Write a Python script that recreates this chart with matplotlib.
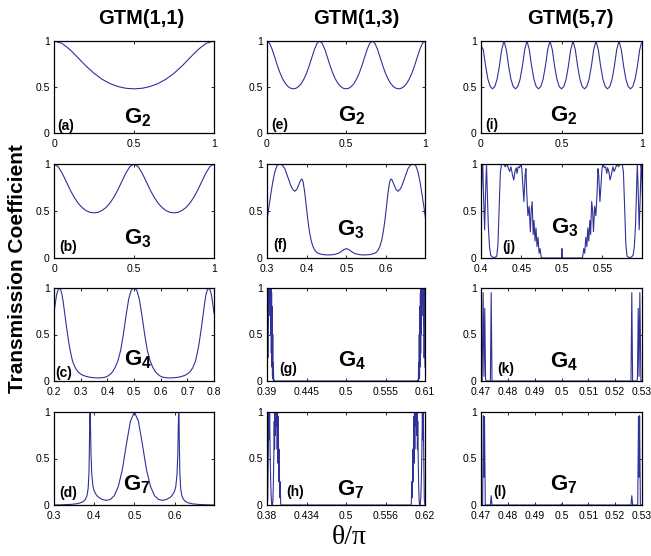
import numpy as np
import matplotlib
matplotlib.use('Agg')
import matplotlib.pyplot as plt

plt.rcParams['font.family'] = ['Liberation Sans', 'DejaVu Sans']
plt.rcParams['mathtext.fontset'] = 'custom'
plt.rcParams['mathtext.bf'] = 'Liberation Sans:bold'
plt.rcParams['mathtext.rm'] = 'Liberation Sans'

LINE = '#31319a'

# ---- GTM(1,1) ----
# (a) G2
a_x = np.linspace(0, 1, 21)
a_T = [1.0, 0.974, 0.906, 0.818, 0.728, 0.649, 0.585, 0.537, 0.505, 0.486,
       0.48, 0.486, 0.505, 0.537, 0.585, 0.649, 0.728, 0.818, 0.906, 0.974, 1.0]

# (b) G3
b_x = np.linspace(0, 1, 41)
b_T = [1.0, 0.974, 0.906, 0.818, 0.728, 0.649, 0.585, 0.537, 0.505, 0.486,
       0.48, 0.486, 0.505, 0.537, 0.585, 0.649, 0.728, 0.818, 0.906, 0.974,
       1.0, 0.974, 0.906, 0.818, 0.728, 0.649, 0.585, 0.537, 0.505, 0.486,
       0.48, 0.486, 0.505, 0.537, 0.585, 0.649, 0.728, 0.818, 0.906, 0.974,
       1.0]

# (c) G4
c_x = [0.200, 0.205, 0.210, 0.215, 0.220, 0.225, 0.230, 0.235, 0.240, 0.245,
       0.250, 0.255, 0.260, 0.265, 0.270, 0.280, 0.290, 0.300, 0.310, 0.320,
       0.335, 0.350, 0.365, 0.380, 0.390, 0.400, 0.410, 0.420, 0.430, 0.440,
       0.450, 0.460, 0.470, 0.480, 0.490, 0.500,
       0.510, 0.520, 0.530, 0.540, 0.550, 0.560, 0.570, 0.580, 0.590, 0.600,
       0.610, 0.620, 0.635, 0.650, 0.665, 0.680, 0.690, 0.700, 0.710, 0.720,
       0.730, 0.735, 0.740, 0.745, 0.750, 0.755, 0.760, 0.765, 0.770, 0.775,
       0.780, 0.785, 0.790, 0.795, 0.800]
c_T = [0.73, 0.84, 0.93, 0.98, 1.0, 0.98, 0.93, 0.84, 0.73, 0.62,
       0.52, 0.42, 0.34, 0.27, 0.21, 0.14, 0.10, 0.075, 0.06, 0.05,
       0.04, 0.035, 0.033, 0.035, 0.04, 0.05, 0.07, 0.10, 0.15, 0.22,
       0.33, 0.50, 0.70, 0.88, 0.98, 1.0,
       0.98, 0.88, 0.70, 0.50, 0.33, 0.22, 0.15, 0.10, 0.07, 0.05,
       0.04, 0.035, 0.033, 0.035, 0.04, 0.05, 0.06, 0.075, 0.10, 0.14,
       0.21, 0.27, 0.34, 0.42, 0.52, 0.62, 0.73, 0.84, 0.93, 0.98,
       1.0, 0.98, 0.93, 0.84, 0.73]

# (d) G7
d_x = [0.300, 0.320, 0.340, 0.355, 0.365, 0.372, 0.378, 0.382, 0.385, 0.387,
       0.388, 0.389, 0.390, 0.391, 0.392, 0.394, 0.397, 0.400, 0.405, 0.410,
       0.420, 0.430, 0.440, 0.450, 0.460, 0.470, 0.480, 0.490, 0.500,
       0.510, 0.520, 0.530, 0.540, 0.550, 0.560, 0.570, 0.580, 0.590, 0.595,
       0.600, 0.603, 0.606, 0.608, 0.609, 0.610, 0.611, 0.612, 0.613, 0.615,
       0.618, 0.622, 0.628, 0.635, 0.645, 0.660, 0.680, 0.700]
d_T = [0.0, 0.002, 0.006, 0.012, 0.022, 0.035, 0.06, 0.10, 0.18, 0.35,
       0.6, 0.95, 1.0, 0.8, 0.55, 0.33, 0.2, 0.15, 0.11, 0.085,
       0.06, 0.05, 0.06, 0.10, 0.20, 0.38, 0.65, 0.90, 1.0,
       0.90, 0.65, 0.38, 0.20, 0.10, 0.06, 0.05, 0.06, 0.085, 0.11,
       0.15, 0.2, 0.33, 0.55, 0.8, 1.0, 0.95, 0.6, 0.35, 0.18,
       0.10, 0.06, 0.035, 0.022, 0.012, 0.006, 0.002, 0.0]

# ---- GTM(1,3) ----
# (e) G2
e_x = np.linspace(0, 1, 61)
e_T = [1.0, 0.974, 0.906, 0.818, 0.728, 0.649, 0.585, 0.537, 0.505, 0.486,
       0.48, 0.486, 0.505, 0.537, 0.585, 0.649, 0.728, 0.818, 0.906, 0.974,
       1.0, 0.974, 0.906, 0.818, 0.728, 0.649, 0.585, 0.537, 0.505, 0.486,
       0.48, 0.486, 0.505, 0.537, 0.585, 0.649, 0.728, 0.818, 0.906, 0.974,
       1.0, 0.974, 0.906, 0.818, 0.728, 0.649, 0.585, 0.537, 0.505, 0.486,
       0.48, 0.486, 0.505, 0.537, 0.585, 0.649, 0.728, 0.818, 0.906, 0.974,
       1.0]

# (f) G3
f_x = [0.300, 0.305, 0.310, 0.315, 0.320, 0.325, 0.330, 0.335, 0.340, 0.345,
       0.350, 0.355, 0.360, 0.365, 0.370, 0.375, 0.380, 0.385, 0.388, 0.391,
       0.395, 0.399, 0.403, 0.407, 0.411, 0.415, 0.420, 0.425, 0.430, 0.440,
       0.450, 0.460, 0.470, 0.480, 0.487, 0.494, 0.500,
       0.506, 0.513, 0.520, 0.530, 0.540, 0.550, 0.560, 0.570, 0.575, 0.580,
       0.585, 0.589, 0.593, 0.597, 0.601, 0.605, 0.609, 0.612, 0.615, 0.620,
       0.625, 0.630, 0.635, 0.640, 0.645, 0.650, 0.655, 0.660, 0.665, 0.670,
       0.675, 0.680, 0.685, 0.690, 0.695, 0.700]
f_T = [0.40, 0.55, 0.69, 0.82, 0.92, 0.98, 1.0, 1.0, 0.98, 0.95,
       0.89, 0.83, 0.77, 0.73, 0.71, 0.73, 0.78, 0.83, 0.84, 0.81,
       0.70, 0.55, 0.40, 0.28, 0.19, 0.13, 0.085, 0.06, 0.048, 0.037,
       0.033, 0.033, 0.038, 0.05, 0.068, 0.09, 0.10,
       0.09, 0.068, 0.05, 0.038, 0.033, 0.033, 0.037, 0.048, 0.06, 0.085,
       0.13, 0.19, 0.28, 0.40, 0.55, 0.70, 0.81, 0.84, 0.83, 0.78,
       0.73, 0.71, 0.73, 0.77, 0.83, 0.89, 0.95, 0.98, 1.0, 1.0,
       0.98, 0.92, 0.82, 0.69, 0.55, 0.40]

# (g) G4
g_x = [0.3900, 0.3904, 0.3908, 0.3912, 0.3916, 0.3920, 0.3924, 0.3928, 0.3932, 0.3936,
       0.3940, 0.3944, 0.3948, 0.3952, 0.3956, 0.3960, 0.3964, 0.3968, 0.3972, 0.3976,
       0.3980, 0.3984, 0.3988, 0.3993, 0.4000, 0.4010,
       0.5990, 0.6000, 0.6007, 0.6012, 0.6016, 0.6020, 0.6024, 0.6028, 0.6032, 0.6036,
       0.6040, 0.6044, 0.6048, 0.6052, 0.6056, 0.6060, 0.6064, 0.6068, 0.6072, 0.6076,
       0.6080, 0.6084, 0.6088, 0.6092, 0.6096, 0.6100]
g_T = [0.15, 0.55, 1.0, 0.25, 0.9, 0.6, 1.0, 0.85, 1.0, 0.95,
       1.0, 0.7, 1.0, 0.5, 1.0, 0.3, 0.95, 0.15, 0.8, 0.05,
       0.5, 0.02, 0.2, 0.005, 0.01, 0.0,
       0.0, 0.01, 0.005, 0.2, 0.02, 0.5, 0.05, 0.8, 0.15, 0.95,
       0.3, 1.0, 0.5, 1.0, 0.7, 1.0, 0.95, 1.0, 0.85, 1.0,
       0.6, 0.9, 0.25, 1.0, 0.55, 0.15]

# (h) G7
h_x = [0.3800, 0.3810, 0.3818, 0.3826, 0.3833, 0.3840, 0.3848, 0.3856, 0.3864, 0.3872,
       0.3880, 0.3888, 0.3896, 0.3904, 0.3910, 0.3915, 0.3920, 0.3925, 0.3930, 0.3935,
       0.3940, 0.3945, 0.3950, 0.3955, 0.3960, 0.3966, 0.3972, 0.3978, 0.3985, 0.3992,
       0.4000, 0.4008, 0.4018,
       0.5982, 0.5992, 0.6000, 0.6008, 0.6015, 0.6022, 0.6028, 0.6034, 0.6040, 0.6045,
       0.6050, 0.6055, 0.6060, 0.6065, 0.6070, 0.6075, 0.6080, 0.6085, 0.6090, 0.6096,
       0.6104, 0.6112, 0.6120, 0.6128, 0.6136, 0.6144, 0.6152, 0.6160, 0.6167, 0.6174,
       0.6182, 0.6190, 0.6200]
h_T = [0.0, 0.05, 0.45, 1.0, 0.7, 1.0, 0.55, 0.25, 0.08, 0.01,
       0.0, 0.03, 0.2, 0.55, 0.9, 0.6, 1.0, 0.75, 1.0, 0.9,
       1.0, 0.85, 1.0, 0.6, 1.0, 0.45, 0.95, 0.25, 0.6, 0.08,
       0.25, 0.01, 0.0,
       0.0, 0.01, 0.25, 0.08, 0.6, 0.25, 0.95, 0.45, 1.0, 0.6,
       1.0, 0.85, 1.0, 0.9, 1.0, 0.75, 1.0, 0.6, 0.9, 0.55,
       0.2, 0.03, 0.0, 0.01, 0.08, 0.25, 0.55, 1.0, 0.7, 1.0,
       0.45, 0.05, 0.0]

# ---- GTM(5,7) ----
# (i) G2
i_x = np.linspace(0, 1, 71)
i_T = [0.95, 0.906, 0.728, 0.585, 0.505, 0.48, 0.505, 0.585, 0.728, 0.906,
       1.0, 0.906, 0.728, 0.585, 0.505, 0.48, 0.505, 0.585, 0.728, 0.906,
       1.0, 0.906, 0.728, 0.585, 0.505, 0.48, 0.505, 0.585, 0.728, 0.906,
       1.0, 0.906, 0.728, 0.585, 0.505, 0.48, 0.505, 0.585, 0.728, 0.906,
       1.0, 0.906, 0.728, 0.585, 0.505, 0.48, 0.505, 0.585, 0.728, 0.906,
       1.0, 0.906, 0.728, 0.585, 0.505, 0.48, 0.505, 0.585, 0.728, 0.906,
       1.0, 0.906, 0.728, 0.585, 0.505, 0.48, 0.505, 0.585, 0.728, 0.906,
       1.0]

# (j) G3
j_x = [0.4000, 0.4015, 0.4022, 0.4030, 0.4045, 0.4058, 0.4068, 0.4078, 0.4090, 0.4105,
       0.4120, 0.4140, 0.4170, 0.4195, 0.4210, 0.4225, 0.4240, 0.4255, 0.4280, 0.4300,
       0.4320, 0.4340, 0.4355, 0.4370, 0.4390, 0.4405, 0.4420, 0.4435, 0.4445, 0.4460,
       0.4475, 0.4490, 0.4505, 0.4515, 0.4530, 0.4545, 0.4555, 0.4565, 0.4580, 0.4595,
       0.4610, 0.4620, 0.4632, 0.4645, 0.4655, 0.4668, 0.4680, 0.4692, 0.4705, 0.4718,
       0.4730, 0.4745, 0.4760, 0.4995, 0.5000, 0.5005,
       0.5240, 0.5255, 0.5270, 0.5282, 0.5295, 0.5308, 0.5320, 0.5332, 0.5345, 0.5355,
       0.5368, 0.5380, 0.5390, 0.5405, 0.5420, 0.5435, 0.5445, 0.5455, 0.5470, 0.5485,
       0.5495, 0.5510, 0.5525, 0.5540, 0.5555, 0.5565, 0.5580, 0.5595, 0.5610, 0.5630,
       0.5645, 0.5660, 0.5680, 0.5700, 0.5720, 0.5745, 0.5760, 0.5775, 0.5790, 0.5805,
       0.5830, 0.5860, 0.5880, 0.5895, 0.5910, 0.5922, 0.5932, 0.5942, 0.5955, 0.5970,
       0.5978, 0.5985, 0.6000]
j_T = [0.55, 0.95, 1.0, 0.7, 0.30, 0.75, 1.0, 0.7, 0.35, 0.12,
       0.03, 0.01, 0.005, 0.02, 0.15, 0.55, 0.92, 1.0, 1.0, 0.97,
       1.0, 0.95, 0.92, 0.97, 0.88, 0.83, 0.92, 0.96, 0.90, 0.97,
       0.96, 1.0, 0.95, 0.80, 0.60, 0.88, 0.95, 0.70, 0.45, 0.55,
       0.28, 0.50, 0.60, 0.25, 0.40, 0.18, 0.32, 0.12, 0.22, 0.05,
       0.10, 0.005, 0.0, 0.0, 0.10, 0.0,
       0.0, 0.005, 0.10, 0.05, 0.22, 0.12, 0.32, 0.18, 0.40, 0.25,
       0.60, 0.50, 0.28, 0.55, 0.45, 0.70, 0.95, 0.88, 0.60, 0.80,
       0.95, 1.0, 0.96, 0.97, 0.90, 0.96, 0.92, 0.83, 0.88, 0.97,
       0.92, 0.95, 1.0, 0.97, 1.0, 1.0, 0.92, 0.55, 0.15, 0.02,
       0.005, 0.01, 0.03, 0.12, 0.35, 0.7, 1.0, 0.75, 0.30, 0.7,
       1.0, 0.95, 0.55]

# (k) G4
k_x = [0.4700, 0.4704, 0.4708, 0.4711, 0.4714, 0.4717, 0.4720, 0.4735, 0.4738, 0.4741,
       0.5259, 0.5262, 0.5265, 0.5280, 0.5283, 0.5286, 0.5289, 0.5292, 0.5296, 0.5300]
k_T = [0.0, 0.0, 0.95, 0.05, 0.78, 0.02, 0.0, 0.0, 0.95, 0.0,
       0.0, 0.95, 0.0, 0.0, 0.02, 0.78, 0.05, 0.95, 0.0, 0.0]

# (l) G7
l_x = [0.4700, 0.4706, 0.4709, 0.4711, 0.4713, 0.4716, 0.4735, 0.4738, 0.4741, 0.4998,
       0.5000, 0.5002, 0.5259, 0.5262, 0.5265, 0.5284, 0.5287, 0.5289, 0.5291, 0.5294,
       0.5300]
l_T = [0.0, 0.0, 0.96, 0.3, 0.95, 0.0, 0.0, 0.1, 0.0, 0.0,
       0.012, 0.0, 0.0, 0.1, 0.0, 0.0, 0.95, 0.3, 0.96, 0.0,
       0.0]

col_titles = ['GTM(1,1)', 'GTM(1,3)', 'GTM(5,7)']

# per panel: data, xlim, xticks, xticklabels, tag, G subscript, tag pos, G pos
panels = [
    [(a_x, a_T, (0, 1), [0, 0.5, 1], ['0', '0.5', '1'], '(a)', '2', (0.02, 0.08), (0.44, 0.17)),
     (b_x, b_T, (0, 1), [0, 0.5, 1], ['0', '0.5', '1'], '(b)', '3', (0.03, 0.12), (0.44, 0.20)),
     (c_x, c_T, (0.2, 0.8), [0.2, 0.3, 0.4, 0.5, 0.6, 0.7, 0.8],
      ['0.2', '0.3', '0.4', '0.5', '0.6', '0.7', '0.8'], '(c)', '4', (0.01, 0.09), (0.44, 0.23)),
     (d_x, d_T, (0.3, 0.698), [0.3, 0.4, 0.5, 0.6], ['0.3', '0.4', '0.5', '0.6'],
      '(d)', '7', (0.03, 0.13), (0.43, 0.22))],
    [(e_x, e_T, (0, 1), [0, 0.5, 1], ['0', '0.5', '1'], '(e)', '2', (0.03, 0.09), (0.45, 0.19)),
     (f_x, f_T, (0.3, 0.698), [0.3, 0.4, 0.5, 0.6], ['0.3', '0.4', '0.5', '0.6'],
      '(f)', '3', (0.04, 0.14), (0.44, 0.30)),
     (g_x, g_T, (0.39, 0.61), [0.39, 0.445, 0.5, 0.555, 0.61],
      ['0.39', '0.445', '0.5', '0.555', '0.61'], '(g)', '4', (0.076, 0.13), (0.45, 0.22)),
     (h_x, h_T, (0.38, 0.62), [0.38, 0.44, 0.5, 0.56, 0.62],
      ['0.38', '0.434', '0.5', '0.556', '0.62'], '(h)', '7', (0.12, 0.14), (0.44, 0.16))],
    [(i_x, i_T, (0, 1), [0, 0.5, 1], ['0', '0.5', '1'], '(i)', '2', (0.025, 0.09), (0.43, 0.19)),
     (j_x, j_T, (0.4, 0.599), [0.4, 0.45, 0.5, 0.55], ['0.4', '0.45', '0.5', '0.55'],
      '(j)', '3', (0.13, 0.12), (0.435, 0.32)),
     (k_x, k_T, (0.47, 0.53), [0.47, 0.48, 0.49, 0.5, 0.51, 0.52, 0.53],
      ['0.47', '0.48', '0.49', '0.5', '0.51', '0.52', '0.53'], '(k)', '4', (0.10, 0.13), (0.43, 0.21)),
     (l_x, l_T, (0.47, 0.53), [0.47, 0.48, 0.49, 0.5, 0.51, 0.52, 0.53],
      ['0.47', '0.48', '0.49', '0.5', '0.51', '0.52', '0.53'], '(l)', '7', (0.075, 0.14), (0.43, 0.22))],
]

W, H = 651, 556
col_left = [54, 267, 481]
col_width = [160, 158, 161]
row_top = [41, 164, 288, 412]
row_height = [92, 94, 93, 93]

fig = plt.figure(figsize=(6.51, 5.56), dpi=100)

for c in range(3):
    for r in range(4):
        x, T, xlim, xt, xtl, tag, sub, tag_pos, g_pos = panels[c][r]
        ax = fig.add_axes([col_left[c] / W, 1 - (row_top[r] + row_height[r]) / H,
                           col_width[c] / W, row_height[r] / H])
        ax.plot(x, T, color=LINE, lw=0.8)
        ax.set_xlim(*xlim)
        ax.set_ylim(0, 1)
        ax.set_xticks(xt)
        ax.set_xticklabels(xtl)
        ax.set_yticks([0, 0.5, 1])
        ax.set_yticklabels(['0', '0.5', '1'])
        ax.tick_params(direction='in', length=2.5, width=0.6, labelsize=7.5,
                       top=True, right=True)
        ax.tick_params(axis='x', pad=4)
        ax.tick_params(axis='y', pad=3)
        for s in ax.spines.values():
            s.set_linewidth(0.9)
        ax.text(tag_pos[0], tag_pos[1], tag, transform=ax.transAxes,
                fontsize=10, fontweight='bold', ha='left', va='center')
        ax.text(g_pos[0], g_pos[1], r'$\mathbf{G}_{\mathbf{%s}}$' % sub,
                transform=ax.transAxes, fontsize=16, ha='left', va='center')

title_x = [141, 356, 570]
for c in range(3):
    fig.text(title_x[c] / W, 1 - 18 / H, col_titles[c], fontsize=14.5,
             fontweight='bold', ha='center', va='center')

fig.text(18 / W, 1 - 269 / H, 'Transmission Coefficient', rotation=90,
         fontsize=15, fontweight='bold', ha='center', va='center')
fig.text(349 / W, 1 - 538 / H, 'θ/π', fontsize=20,
         family=['Liberation Serif', 'DejaVu Serif'], ha='center', va='center')

fig.savefig('out.png', dpi=100)
